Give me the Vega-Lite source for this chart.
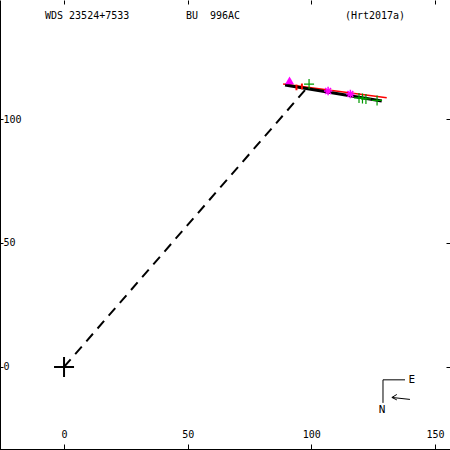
{
  "$schema": "https://vega.github.io/schema/vega-lite/v6.json",
  "width": 450,
  "height": 450,
  "padding": 0,
  "autosize": {"type": "none"},
  "background": "white",
  "config": {
    "view": {"stroke": null},
    "axis": {
      "grid": false,
      "title": null,
      "labelFont": "DejaVu Sans Mono",
      "labelFontSize": 10,
      "labelColor": "black",
      "tickColor": "black",
      "domainColor": "black",
      "labelFlush": false,
      "labelOverlap": false,
      "labelBound": false
    }
  },
  "datasets": {
    "dash": [{"x": 0, "y": 0}, {"x": 97.5, "y": 111.7}],
    "black": [{"x": 89.4, "y": 113.7}, {"x": 128.5, "y": 107.3}],
    "red": [{"x": 88.6, "y": 114.1}, {"x": 130.5, "y": 108.6}],
    "resid": [
      {"x": 94.0, "y": 113.9, "y2": 111.6},
      {"x": 96.2, "y": 114.3, "y2": 112.0}
    ],
    "tri": [{"x": 91.2, "y": 115.6}],
    "plus": [
      {"x": 99.1, "y": 114.1},
      {"x": 119.3, "y": 108.5},
      {"x": 120.7, "y": 108.3},
      {"x": 122.1, "y": 108.1},
      {"x": 126.6, "y": 107.5}
    ],
    "star": [{"x": 106.8, "y": 111.3}, {"x": 115.8, "y": 110.1}],
    "origin": [{"x": 0, "y": 0}],
    "compass": [
      {"x": 129.0, "y": -5.2, "x2": 137.9, "y2": -5.2},
      {"x": 129.0, "y": -5.2, "x2": 129.0, "y2": -14.5},
      {"x": 132.6, "y": -12.3, "x2": 139.9, "y2": -13.1},
      {"x": 132.6, "y": -12.3, "x2": 134.6, "y2": -11.1},
      {"x": 132.6, "y": -12.3, "x2": 134.6, "y2": -13.3}
    ],
    "labels": [
      {"x": -7.7, "y": 141.5, "t": "WDS 23524+7533"},
      {"x": 49.3, "y": 141.5, "t": "BU\u00a0\u00a0996AC"},
      {"x": 113.6, "y": 141.5, "t": "(Hrt2017a)"}
    ],
    "compassText": [
      {"x": 140.7, "y": -5.2, "t": "E"},
      {"x": 128.6, "y": -17.3, "t": "N"}
    ]
  },
  "layer": [
    {
      "data": {"name": "dash"},
      "mark": {"type": "line", "color": "black", "strokeWidth": 2, "strokeDash": [10, 7]},
      "encoding": {
        "x": {"field": "x", "type": "quantitative",
          "scale": {"domain": [-25.9, 156.1], "nice": false, "zero": false},
          "axis": {"orient": "top", "offset": -449, "values": [0, 50, 100, 150], "tickSize": 5, "labelPadding": 5, "domain": true}},
        "y": {"field": "y", "type": "quantitative",
          "scale": {"domain": [-33.5, 148], "nice": false, "zero": false},
          "axis": {"orient": "right", "offset": -450, "values": [0, 50, 100], "tickSize": 3, "labelPadding": 0, "labelAlign": "left", "domain": true}}
      }
    },
    {
      "data": {"name": "red"},
      "mark": {"type": "line", "color": "red", "strokeWidth": 1.5},
      "encoding": {
        "x": {"field": "x", "type": "quantitative",
          "axis": {"orient": "bottom", "offset": -450, "values": [0, 50, 100, 150], "tickSize": 4, "labels": false, "domain": false}},
        "y": {"field": "y", "type": "quantitative",
          "axis": {"orient": "left", "offset": -450, "values": [0, 50, 100], "tickSize": 4, "labels": false, "domain": false}}
      }
    },
    {
      "data": {"name": "black"},
      "mark": {"type": "line", "color": "black", "strokeWidth": 3},
      "encoding": {
        "x": {"field": "x", "type": "quantitative", "axis": null},
        "y": {"field": "y", "type": "quantitative", "axis": null}
      }
    },
    {
      "data": {"name": "resid"},
      "mark": {"type": "rule", "color": "red", "strokeWidth": 2},
      "encoding": {
        "x": {"field": "x", "type": "quantitative", "axis": null},
        "y": {"field": "y", "type": "quantitative", "axis": null},
        "y2": {"field": "y2"}
      }
    },
    {
      "data": {"name": "plus"},
      "mark": {"type": "point", "shape": "M-1,0L1,0M0,-1L0,1", "filled": false, "color": "#009900", "strokeWidth": 1.2, "size": 100, "opacity": 1},
      "encoding": {
        "x": {"field": "x", "type": "quantitative", "axis": null},
        "y": {"field": "y", "type": "quantitative", "axis": null}
      }
    },
    {
      "data": {"name": "star"},
      "mark": {"type": "point", "shape": "M-1,0L1,0M0,-1L0,1M-0.7,-0.7L0.7,0.7M-0.7,0.7L0.7,-0.7", "filled": false, "color": "#ff00ff", "strokeWidth": 1.5, "size": 70, "opacity": 1},
      "encoding": {
        "x": {"field": "x", "type": "quantitative", "axis": null},
        "y": {"field": "y", "type": "quantitative", "axis": null}
      }
    },
    {
      "data": {"name": "tri"},
      "mark": {"type": "point", "shape": "triangle-up", "filled": true, "color": "#ff00ff", "size": 80, "opacity": 1},
      "encoding": {
        "x": {"field": "x", "type": "quantitative", "axis": null},
        "y": {"field": "y", "type": "quantitative", "axis": null}
      }
    },
    {
      "data": {"name": "origin"},
      "mark": {"type": "point", "shape": "M-1,0L1,0M0,-1L0,1", "filled": false, "color": "black", "strokeWidth": 2, "size": 400, "opacity": 1},
      "encoding": {
        "x": {"field": "x", "type": "quantitative", "axis": null},
        "y": {"field": "y", "type": "quantitative", "axis": null}
      }
    },
    {
      "data": {"name": "compass"},
      "mark": {"type": "rule", "color": "black", "strokeWidth": 1},
      "encoding": {
        "x": {"field": "x", "type": "quantitative", "axis": null},
        "y": {"field": "y", "type": "quantitative", "axis": null},
        "x2": {"field": "x2"},
        "y2": {"field": "y2"}
      }
    },
    {
      "data": {"name": "labels"},
      "mark": {"type": "text", "font": "DejaVu Sans Mono", "fontSize": 10, "align": "left", "baseline": "middle", "color": "black"},
      "encoding": {
        "x": {"field": "x", "type": "quantitative", "axis": null},
        "y": {"field": "y", "type": "quantitative", "axis": null},
        "text": {"field": "t"}
      }
    },
    {
      "data": {"name": "compassText"},
      "mark": {"type": "text", "font": "DejaVu Sans Mono", "fontSize": 11, "align": "center", "baseline": "middle", "color": "black"},
      "encoding": {
        "x": {"field": "x", "type": "quantitative", "axis": null},
        "y": {"field": "y", "type": "quantitative", "axis": null},
        "text": {"field": "t"}
      }
    }
  ],
  "resolve": {"axis": {"x": "independent", "y": "independent"}}
}
